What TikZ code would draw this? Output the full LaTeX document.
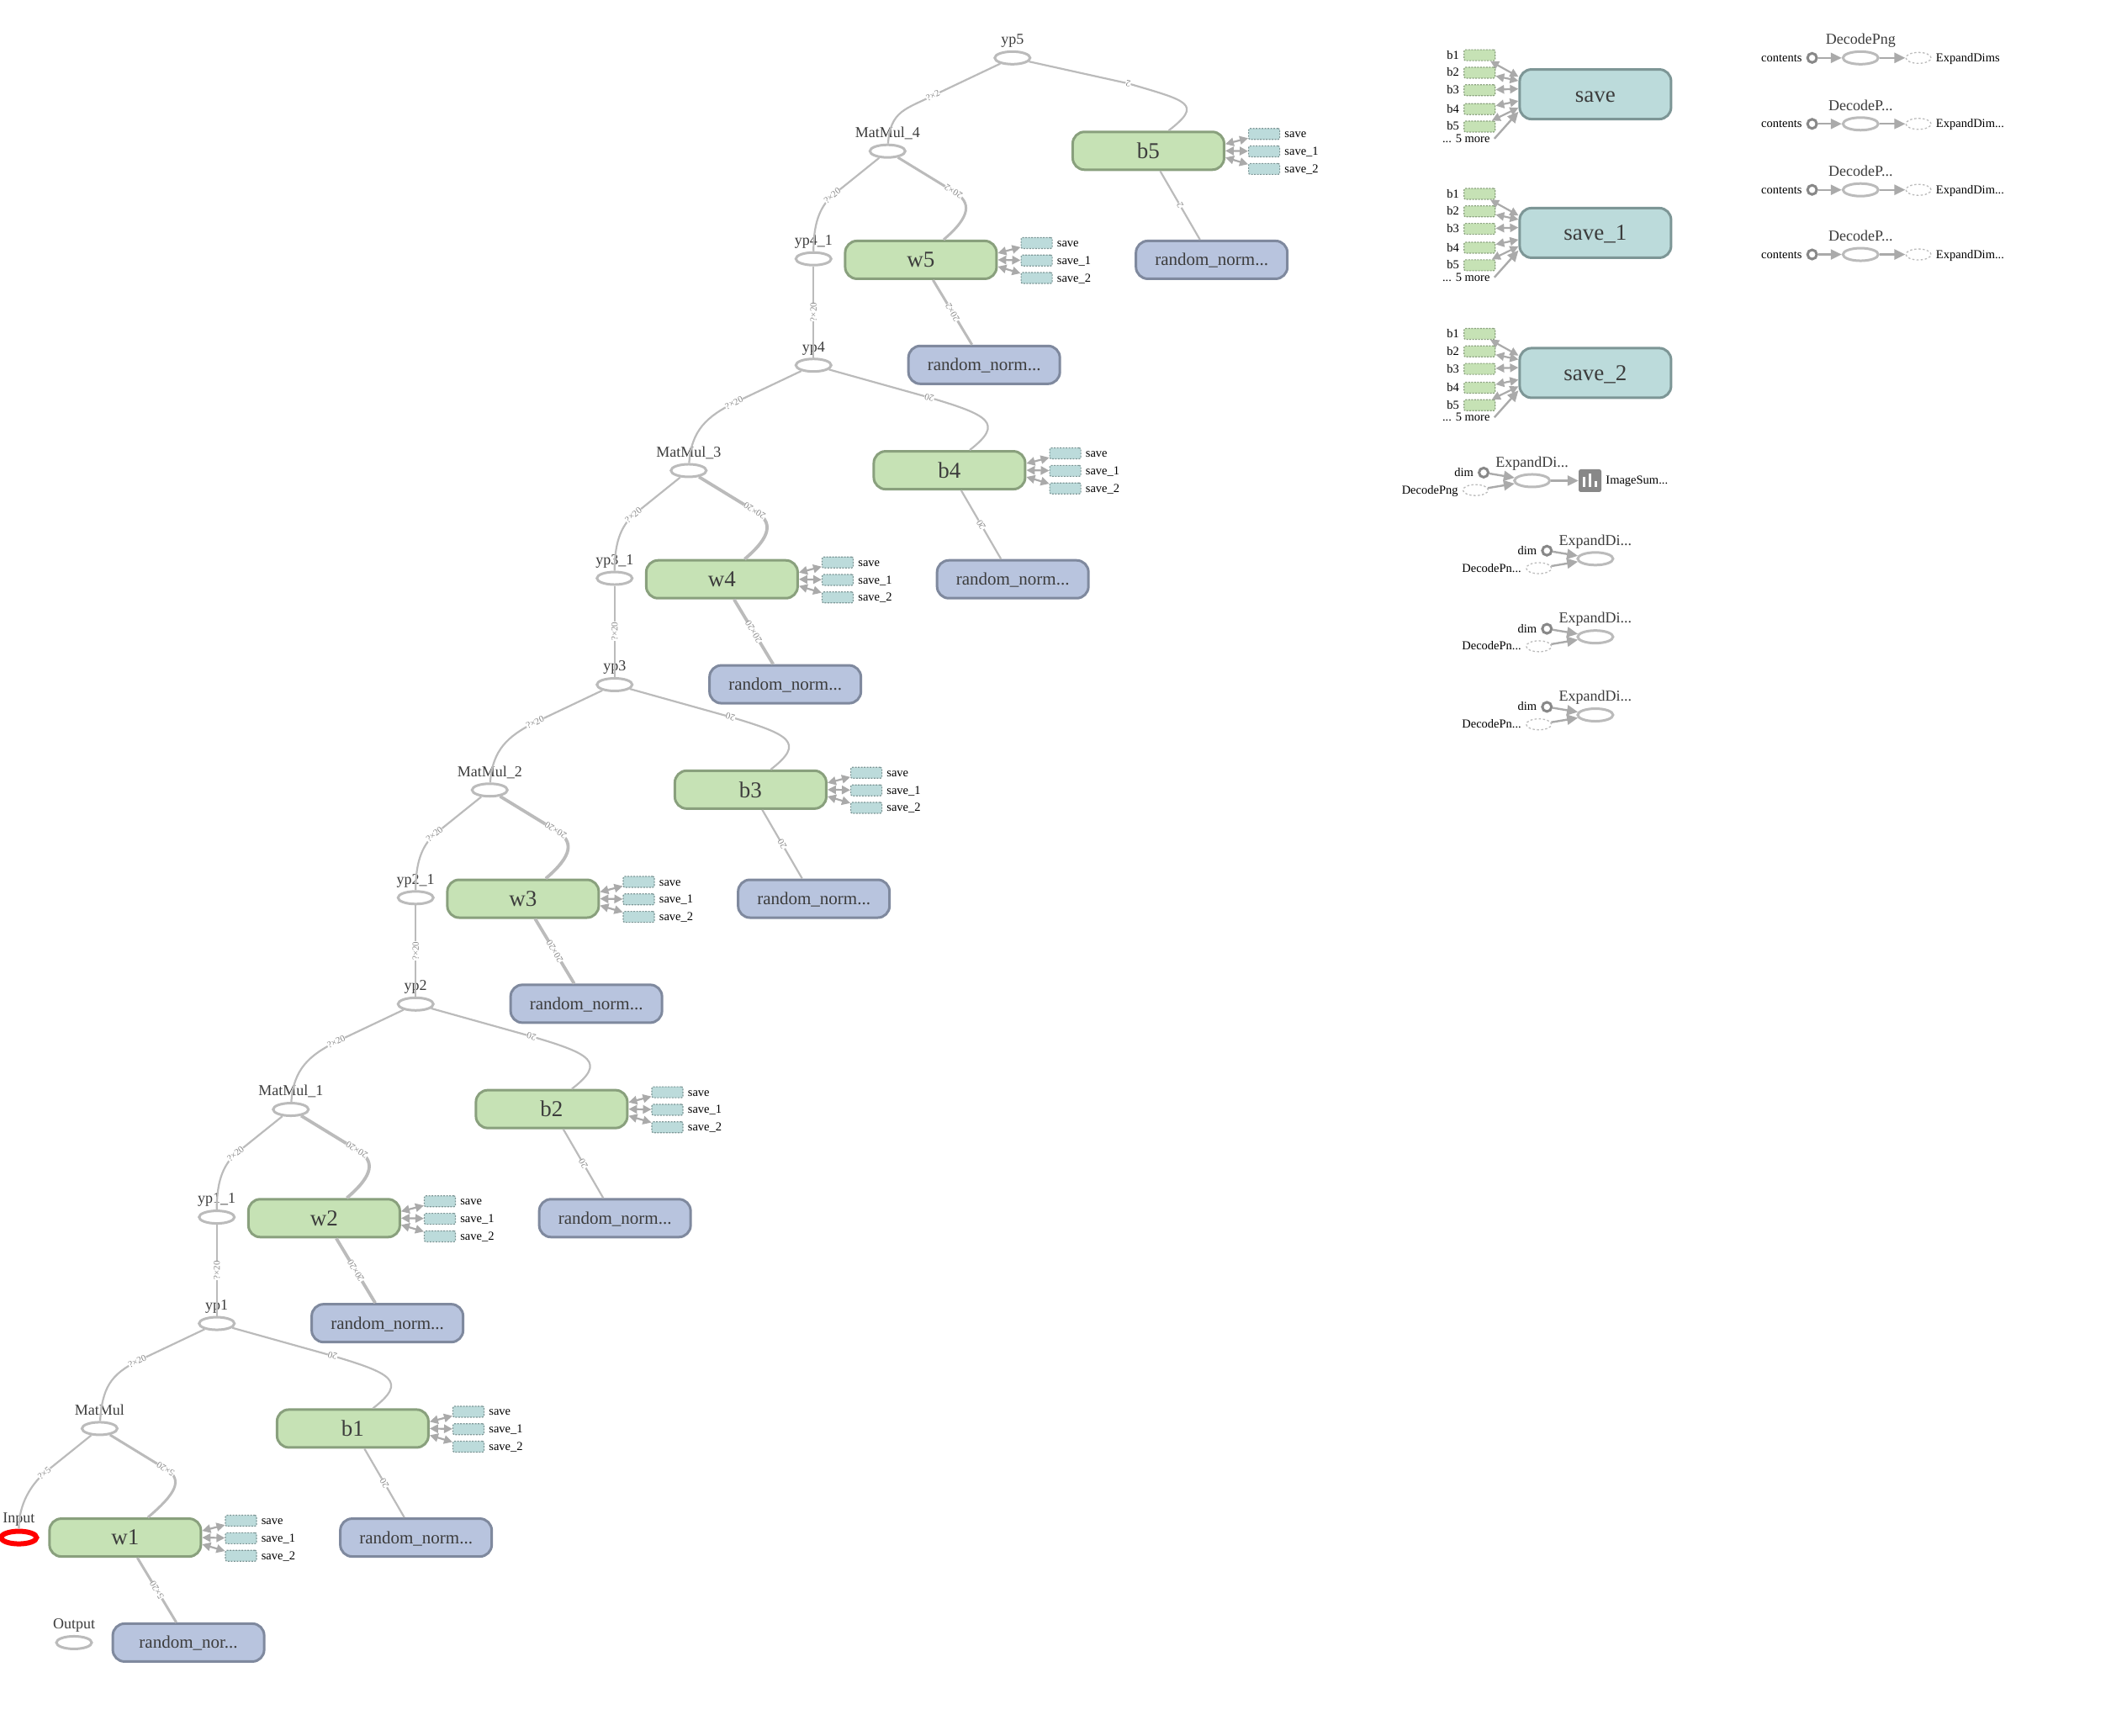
\documentclass[tikz,border=0pt]{standalone}
\usepackage{fontspec}
\setmainfont{Liberation Serif}
\usetikzlibrary{arrows.meta,calc,shapes.geometric}
\definecolor{opgrey}{RGB}{187,187,187}
\definecolor{tipgrey}{RGB}{170,170,170}
\definecolor{ringgrey}{RGB}{136,136,136}
\definecolor{softgreen}{RGB}{198,226,181}
\definecolor{darkgreen}{RGB}{137,160,125}
\definecolor{softblue}{RGB}{184,196,222}
\definecolor{darkblue}{RGB}{127,137,158}
\definecolor{softteal}{RGB}{188,219,219}
\definecolor{darkteal}{RGB}{125,150,150}
\definecolor{inktext}{RGB}{60,60,60}
\newcommand{\cutdots}{...}
\tikzset{
  edgethin/.style={line width=2.2pt, draw=opgrey},
  edgemid/.style={line width=3pt, draw=opgrey},
  edgethick/.style={line width=3.8pt, draw=opgrey},
  elabel/.style={sloped, allow upside down, font=\fontsize{11}{12}\selectfont, text=ringgrey, fill=white, inner sep=0.3pt},
  flow/.style={-{Triangle[length=13pt,width=12pt]}, line width=2.4pt, draw=tipgrey},
  annot/.style={{Triangle[length=10pt,width=10pt]}-{Triangle[length=10pt,width=10pt]}, line width=2.2pt, draw=tipgrey},
  bigbox/.style={draw, rounded corners=14pt, line width=3pt, minimum width=180pt, minimum height=45pt, text=inktext, font=\fontsize{27}{30}\selectfont},
  varbox/.style={bigbox, fill=softgreen, draw=darkgreen},
  randbox/.style={bigbox, fill=softblue, draw=darkblue, font=\fontsize{21}{24}\selectfont, text height=18pt, text depth=4pt},
  saveblock/.style={bigbox, fill=softteal, draw=darkteal, minimum height=59pt, text height=24pt, text depth=6pt},
  opnode/.style={ellipse, draw=opgrey, fill=white, line width=3pt, minimum width=42pt, minimum height=15pt, inner sep=0pt},
  oplabel/.style={font=\fontsize{18}{20}\selectfont, text=inktext, inner sep=0pt, text height=12pt, text depth=4pt, label distance=3pt},
  ghostop/.style={ellipse, draw=opgrey, dashed, dash pattern=on 2.5pt off 2.5pt, line width=1.3pt, fill=white, minimum width=30pt, minimum height=13pt, inner sep=0pt},
  portring/.style={circle, draw=ringgrey, fill=white, line width=3pt, minimum size=11pt, inner sep=0pt},
  tealchip/.style={rectangle, rounded corners=2pt, fill=softteal, draw=darkteal, dash pattern=on 2pt off 1.5pt, line width=1.2pt, minimum width=37pt, minimum height=13pt, inner sep=0pt},
  greenchip/.style={tealchip, fill=softgreen, draw=darkgreen},
  smalltext/.style={font=\fontsize{14.5}{16}\selectfont, inner sep=0pt, text=black, text height=12pt, text depth=3pt},
  label distance=5pt
}
\begin{document}
\begin{tikzpicture}[x=1.6008pt,y=-1.6008pt]
\useasboundingbox (0,0) rectangle (1568,1289);
\foreach \i/\ox/\oy/\cut in {1/0/0/nor,2/147.75/237.25/norm,3/295.5/474.5/norm,4/443.25/711.75/norm,5/591/949/norm}{
\node[varbox] (w\i) at (93+\ox,1142-\oy) {w\i};
\node[varbox] (b\i) at (262+\ox,1061-\oy) {b\i};
\node[randbox] (rw\i) at (140+\ox,1220-\oy) {random\_\cut...};
\node[randbox] (rb\i) at (309+\ox,1142-\oy) {random\_norm...};
}
\foreach \i/\ox/\oy in {1/0/0,2/147.75/237.25,3/295.5/474.5,4/443.25/711.75}{
\node[opnode,label={[oplabel]above:yp\i}] (yp\i) at (161+\ox,983-\oy) {};
\node[opnode,label={[oplabel]above:yp\i\_1}] (yq\i) at (161+\ox,904-\oy) {};
\node[opnode,label={[oplabel]above:MatMul\_\i}] (mm\i) at (216+\ox,824-\oy) {};
}
\node[opnode,label={[oplabel]above:yp5}] (yp5) at (752,43) {};
\node[opnode,label={[oplabel]above:MatMul}] (mm0) at (74,1061) {};
\node[opnode,draw=red,line width=6pt,label={[oplabel]above:Input}] (inp) at (14,1142) {};
\node[opnode,label={[oplabel]above:Output}] (outp) at (55,1220) {};
\foreach \src/\dst/\lab/\ew in {rw1/w1/5×20/edgemid,rw2/w2/20×20/edgethick,rw3/w3/20×20/edgethick,rw4/w4/20×20/edgethick,rw5/w5/20×2/edgemid,rb1/b1/20/edgethin,rb2/b2/20/edgethin,rb3/b3/20/edgethin,rb4/b4/20/edgethin,rb5/b5/2/edgethin}{
\draw[\ew] (\src) -- node[elabel]{\lab} (\dst);
}
\foreach \src/\dst/\lab/\ew in {w1/mm0/5×20/edgemid,w2/mm1/20×20/edgethick,w3/mm2/20×20/edgethick,w4/mm3/20×20/edgethick,w5/mm4/20×2/edgemid}{
\coordinate (bend) at ($(\dst)+(49,30)$);
\draw[\ew] ([xshift=27pt]\src.north) .. controls +(20,-17) and +(14,8) .. (bend) -- node[elabel,pos=0]{\lab} (\dst);
}
\foreach \src/\dst/\lab/\dy in {b1/yp1/20/24,b2/yp2/20/24,b3/yp3/20/24,b4/yp4/20/24,b5/yp5/2/19}{
\coordinate (bend) at ($(\dst)+(86,\dy)$);
\draw[edgethin] ([xshift=24pt]\src.north) .. controls +(26,-20) and +(44,13) .. (bend) -- node[elabel,pos=0]{\lab} (\dst);
}
\foreach \src/\dst/\lab in {mm0/yp1/?×20,mm1/yp2/?×20,mm2/yp3/?×20,mm3/yp4/?×20,mm4/yp5/?×2}{
\coordinate (bend) at ($(\dst)+(-59,28)$);
\draw[edgethin] (\src) .. controls +(2,-30) and +(-20,10) .. (bend) -- node[elabel,pos=0]{\lab} (\dst);
}
\foreach \src/\dst/\lab in {inp/mm0/?×5,yq1/mm1/?×20,yq2/mm2/?×20,yq3/mm3/?×20,yq4/mm4/?×20}{
\coordinate (bend) at ($(\dst)+(-41,33)$);
\draw[edgethin] (\src) .. controls +(0,-25) and +(-10,9) .. (bend) -- node[elabel,pos=0]{\lab} (\dst);
}
\foreach \i in {1,...,4}{
\draw[edgethin] (yp\i) -- node[elabel]{?×20} (yq\i);
}
\foreach \var in {w1,w2,w3,w4,w5,b1,b2,b3,b4,b5}{
\foreach \k/\dy/\off/\lab in {0/-12.5/-5/save,1/0.5/0/save\_1,2/13.5/5/save\_2}{
\node[tealchip,label={[smalltext]right:\lab}] (\var-c\k) at ($(\var)+(86,\dy)$) {};
\draw[annot] ($(\var.east)+(0,\off)$) -- (\var-c\k);
}}
\foreach \sv/\y/\lab in {s0/70/save,s1/173/save\_1,s2/277/save\_2}{
\node[saveblock] (\sv) at (1185,\y) {\lab};
\foreach \k/\dy/\off in {1/-29/-13,2/-16/-10,3/-3/-4,4/11/5,5/24/10}{
\node[greenchip,label={[smalltext]left:b\k}] (\sv-b\k) at (1099,\y+\dy) {};
\draw[annot] ($(\sv.west)+(0,\off)$) -- (\sv-b\k);
}
\node[smalltext] (\sv-more) at (1089,\y+33) {... 5 more};
\coordinate (\sv-from) at (1110,\y+33);
\draw[flow] (\sv-from) -- ($(\sv.west)+(0,13)$);
}
\foreach \k/\y/\ttl/\nxt in {0/43/DecodePng/ExpandDims,1/92/DecodeP\cutdots/ExpandDim\cutdots,2/141/DecodeP\cutdots/ExpandDim\cutdots,3/189/DecodeP\cutdots/ExpandDim\cutdots}{
\node[opnode,label={[oplabel]above:\ttl}] (dp\k) at (1382,\y) {};
\node[portring,label={[smalltext]left:contents}] (dc\k) at (1346,\y) {};
\node[ghostop,label={[smalltext]right:\nxt}] (de\k) at (1425,\y) {};
\draw[flow] (dc\k) -- (dp\k);
\draw[flow] (dp\k) -- (de\k);
}
\foreach \k/\x/\y/\ttl in {0/1138/357/DecodePng,1/1185/415/DecodePn\cutdots,2/1185/473/DecodePn\cutdots,3/1185/531/DecodePn\cutdots}{
\node[opnode,label={[oplabel]above:ExpandDi...}] (ex\k) at (\x,\y) {};
\node[portring,label={[smalltext]left:dim}] (xd\k) at (\x-36,\y-6) {};
\node[ghostop,label={[smalltext]left:\ttl}] (xg\k) at (\x-42,\y+7) {};
\draw[flow] (xd\k) -- (ex\k);
\draw[flow] (xg\k) -- (ex\k);
}
\node[rectangle,rounded corners=2.5pt,fill=ringgrey,minimum size=27pt,inner sep=0pt,label={[smalltext]right:ImageSum...}] (icon) at (1181,357) {};
\draw[flow] (ex0) -- (icon);
\fill[white] ($(icon)+(-5.5,4.5)$) rectangle ($(icon)+(-3.5,-3)$);
\fill[white] ($(icon)+(-1,4.5)$) rectangle ($(icon)+(1,-5)$);
\fill[white] ($(icon)+(3.5,4.5)$) rectangle ($(icon)+(5.5,0.5)$);
\end{tikzpicture}
\end{document}
